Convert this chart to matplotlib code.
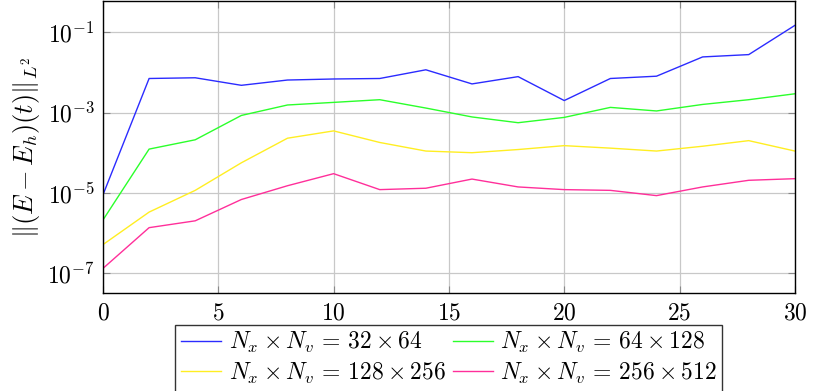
import numpy as np
import matplotlib
matplotlib.use('Agg')
import matplotlib.pyplot as plt
from matplotlib.ticker import FixedLocator, FuncFormatter

plt.rcParams['mathtext.fontset'] = 'cm'
plt.rcParams['font.family'] = 'DejaVu Serif'

# time steps
t = [0, 2, 4, 6, 8, 10, 12, 14, 16, 18, 20, 22, 24, 26, 28, 30]

# L2 error for each grid
err_32x64 = [8.9e-6, 7.1e-3, 7.4e-3, 4.8e-3, 6.5e-3, 6.9e-3, 7.1e-3, 1.17e-2,
             5.2e-3, 7.9e-3, 2.0e-3, 7.1e-3, 8.1e-3, 2.45e-2, 2.8e-2, 1.5e-1]
err_64x128 = [2.1e-6, 1.23e-4, 2.1e-4, 8.5e-4, 1.55e-3, 1.8e-3, 2.1e-3, 1.3e-3,
              7.8e-4, 5.6e-4, 7.6e-4, 1.35e-3, 1.1e-3, 1.6e-3, 2.1e-3, 2.95e-3]
err_128x256 = [5.1e-7, 3.3e-6, 1.15e-5, 5.6e-5, 2.3e-4, 3.5e-4, 1.8e-4, 1.1e-4,
               1.0e-4, 1.2e-4, 1.5e-4, 1.3e-4, 1.1e-4, 1.45e-4, 2.0e-4, 1.1e-4]
err_256x512 = [1.3e-7, 1.35e-6, 2.0e-6, 6.8e-6, 1.5e-5, 3.0e-5, 1.2e-5, 1.3e-5,
               2.2e-5, 1.4e-5, 1.2e-5, 1.15e-5, 8.5e-6, 1.4e-5, 2.05e-5, 2.25e-5]

labels = [r'$N_x \times N_v \,=\, 32 \times 64$',
          r'$N_x \times N_v \,=\, 64 \times 128$',
          r'$N_x \times N_v \,=\, 128 \times 256$',
          r'$N_x \times N_v \,=\, 256 \times 512$']
colors = ['#2b2bff', '#2bff2b', '#ffee22', '#ff2f9a']

fig = plt.figure(figsize=(8.14, 3.91), dpi=100)
ax = fig.add_axes([0.1265, 0.2506, 0.85, 0.7464])

lines = []
for y, lab, c in zip([err_32x64, err_64x128, err_128x256, err_256x512], labels, colors):
    ln, = ax.plot(t, y, color=c, lw=1.0, label=lab)
    lines.append(ln)

ax.set_yscale('log')
ax.set_xlim(0, 30)
ax.set_ylim(10**-7.5, 10**-0.22)
ax.yaxis.set_major_locator(FixedLocator([1e-7, 1e-5, 1e-3, 1e-1]))
ax.yaxis.set_minor_locator(FixedLocator([]))
ax.yaxis.set_major_formatter(FuncFormatter(lambda v, p: r'$10^{%d}$' % round(np.log10(v))))
ax.set_xticks([0, 5, 10, 15, 20, 25, 30])
ax.xaxis.set_major_formatter(FuncFormatter(lambda v, p: r'$%d$' % v))

ax.grid(True, color='#c8c8c8', lw=0.9)
ax.set_axisbelow(True)
ax.tick_params(direction='in', length=5, color='#888888', labelsize=17, pad=6)
ax.tick_params(top=True, right=True)
for s in ax.spines.values():
    s.set_linewidth(1.0)

ax.set_ylabel(r'$\Vert(E-E_h)(t)\Vert_{L^2}$', fontsize=19, labelpad=4)

# row-wise legend order (matplotlib fills columns first)
order = [0, 2, 1, 3]
leg = ax.legend([lines[i] for i in order], [labels[i] for i in order],
                loc='upper center', bbox_to_anchor=(0.5, -0.108), ncol=2,
                fontsize=17, frameon=True, fancybox=False, edgecolor='black',
                handlelength=1.7, columnspacing=0.3, handletextpad=0.3,
                borderpad=0.25, labelspacing=0.22, borderaxespad=0)
leg.get_frame().set_linewidth(1.0)

fig.savefig('out.png', dpi=100)
